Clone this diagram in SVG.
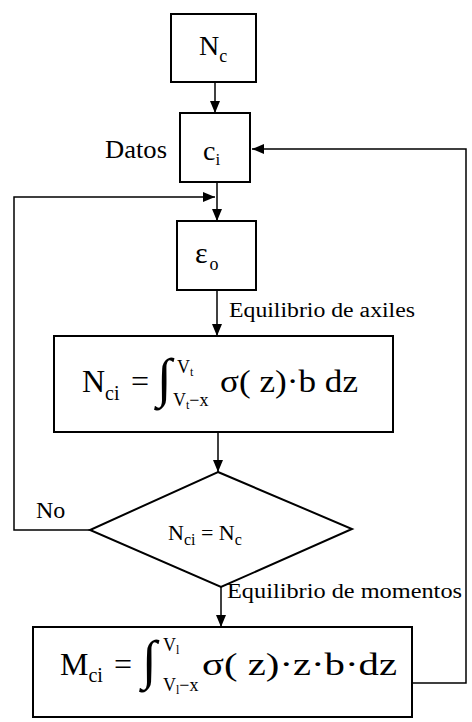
<svg xmlns="http://www.w3.org/2000/svg" width="472" height="722" viewBox="0 0 472 722" font-family="'Liberation Serif', 'Times New Roman', serif">
<defs>
<marker id="ah" viewBox="0 0 12 10" refX="12" refY="5" markerWidth="12" markerHeight="10" markerUnits="userSpaceOnUse" orient="auto">
<path d="M0,0 L12,5 L0,10 z" fill="#000"/>
</marker>
<style>
.box{fill:#fff;stroke:#000;stroke-width:2}
.ln{fill:none;stroke:#000;stroke-width:1.5}
</style>
</defs>
<rect width="472" height="722" fill="#fff"/>
<g id="connectors">
<line class="ln" x1="215" y1="82" x2="215" y2="113" marker-end="url(#ah)"/>
<line class="ln" x1="217" y1="182" x2="217" y2="221" marker-end="url(#ah)"/>
<polyline class="ln" points="90,530 14,530 14,197 215,197" marker-end="url(#ah)"/>
<line class="ln" x1="217" y1="290" x2="217" y2="336" marker-end="url(#ah)"/>
<line class="ln" x1="218" y1="432" x2="218" y2="472" marker-end="url(#ah)"/>
<line class="ln" x1="221" y1="587" x2="221" y2="627" marker-end="url(#ah)"/>
<polyline class="ln" points="412,683 466,683 466,149 252,149" marker-end="url(#ah)"/>
<text x="229" y="317" font-size="20" textLength="186" lengthAdjust="spacingAndGlyphs">Equilibrio de axiles</text>
<text x="227" y="598" font-size="20" textLength="235" lengthAdjust="spacingAndGlyphs">Equilibrio de momentos</text>
<text x="36" y="518" font-size="24">No</text>
</g>
<g id="node-nc">
<rect class="box" x="171" y="14" width="85" height="68"/>
<text x="199" y="55" font-size="28">N<tspan font-size="18" dy="7">c</tspan></text>
</g>
<g id="node-ci">
<rect class="box" x="180" y="113" width="70" height="69"/>
<text x="105" y="158" font-size="25" textLength="62" lengthAdjust="spacingAndGlyphs">Datos</text>
<text x="203" y="160" font-size="28">c<tspan font-size="17" dy="5">i</tspan></text>
</g>
<g id="node-eps">
<rect class="box" x="177" y="221" width="79" height="69"/>
<text x="195" y="263" font-size="30">ε<tspan font-size="18" dx="2" dy="7">o</tspan></text>
</g>
<g id="node-nci">
<rect class="box" x="54" y="336" width="339" height="96"/>
<text x="82" y="392" font-size="32">N<tspan font-size="20" dy="8">ci</tspan></text>
<text x="131" y="392" font-size="32">=</text>
<text x="157" y="396" font-size="54">∫</text>
<text x="177" y="373" font-size="18">V<tspan font-size="12" dy="3">t</tspan></text>
<text x="173" y="406" font-size="18">V<tspan font-size="12" dy="3">t</tspan><tspan dy="-3">−x</tspan></text>
<text x="220" y="392" font-size="32" textLength="138" lengthAdjust="spacingAndGlyphs">σ( z)·b dz</text>
</g>
<g id="node-decision">
<polygon class="box" points="218,472 352,529 221,587 90,530"/>
<text x="168" y="540" font-size="22">N<tspan font-size="16" dy="5">ci</tspan><tspan dy="-5"> = N</tspan><tspan font-size="16" dy="5">c</tspan></text>
</g>
<g id="node-mci">
<rect class="box" x="33" y="627" width="379" height="90"/>
<text x="60" y="675" font-size="32">M<tspan font-size="20" dy="7">ci</tspan></text>
<text x="114" y="675" font-size="32">=</text>
<text x="142" y="678" font-size="54">∫</text>
<text x="163" y="651" font-size="18">V<tspan font-size="12" dy="3">l</tspan></text>
<text x="163" y="691" font-size="18">V<tspan font-size="12" dy="3">l</tspan><tspan dy="-3">−x</tspan></text>
<text x="202" y="675" font-size="32" textLength="195" lengthAdjust="spacingAndGlyphs">σ( z)·z·b·dz</text>
</g>
</svg>
